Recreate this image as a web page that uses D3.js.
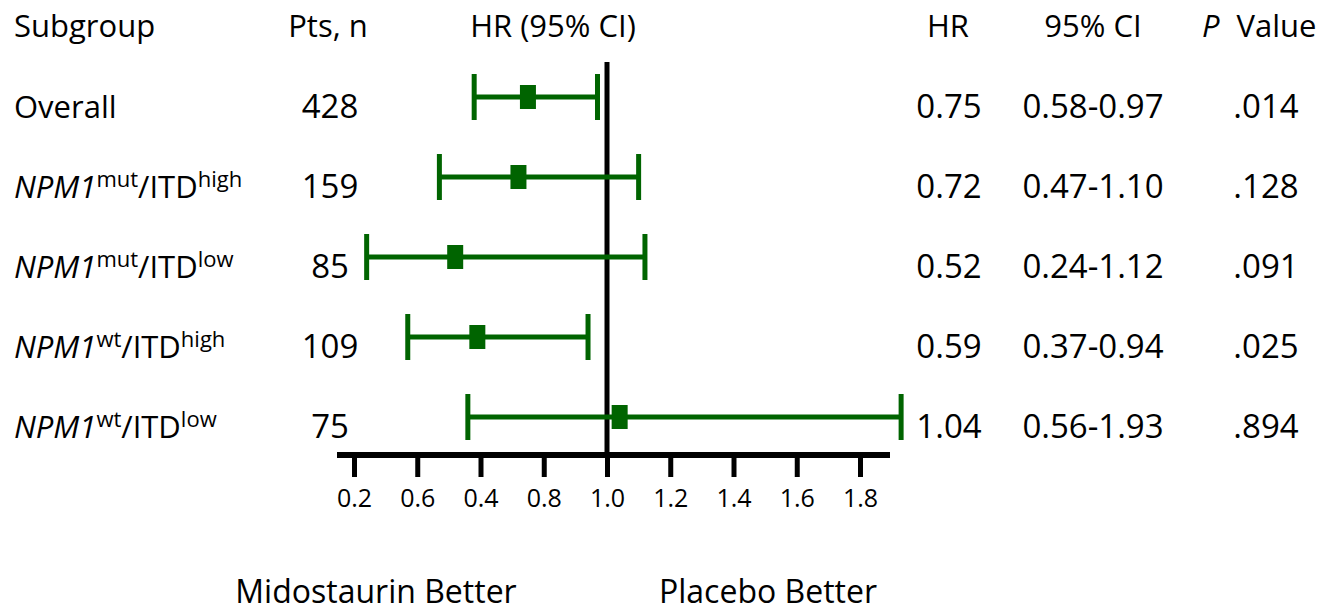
<!DOCTYPE html>
<html>
<head>
<meta charset="utf-8">
<script src="https://cdn.jsdelivr.net/npm/d3@7"></script>
<style>
  body { margin: 0; background: #fff; }
  text { font-family: "Open Sans", sans-serif; fill: #000; }
</style>
</head>
<body>
<div id="forest"></div>
<script>
// data
var subgroupGene = ["Overall", "NPM1", "NPM1", "NPM1", "NPM1"];
var mutStatus = ["", "mut", "mut", "wt", "wt"];
var itdStatus = ["", "high", "low", "high", "low"];
var patients = [428, 159, 85, 109, 75];
var hr = [0.75, 0.72, 0.52, 0.59, 1.04];
var ciLow = [0.58, 0.47, 0.24, 0.37, 0.56];
var ciHigh = [0.97, 1.10, 1.12, 0.94, 1.93];
var pValues = [".014", ".128", ".091", ".025", ".894"];
var tickValues = [0.2, 0.4, 0.6, 0.8, 1.0, 1.2, 1.4, 1.6, 1.8];
var tickLabels = ["0.2", "0.6", "0.4", "0.8", "1.0", "1.2", "1.4", "1.6", "1.8"];

var width = 1327, height = 613;
var green = "#006400";
var txt = "31px", num = "33px";

var svg = d3.select("#forest")
  .append("svg")
    .attr("width", width)
    .attr("height", height);

var rows = d3.range(subgroupGene.length);

var x = d3.scaleLinear()
    .domain([0.2, 1.8])
    .range([354, 860]);

var y = d3.scalePoint()
    .domain(rows)
    .range([97, 417]);

var axisY = 455;

// column headers
var headers = [
  {t: "Subgroup", x: 14, a: "start"},
  {t: "Pts, n", x: 328, a: "middle"},
  {t: "HR (95% CI)", x: 553, a: "middle"},
  {t: "HR", x: 948, a: "middle"},
  {t: "95% CI", x: 1093, a: "middle"}
];
svg.selectAll(".hdr")
  .data(headers)
  .enter()
  .append("text")
    .attr("class", "hdr")
    .attr("x", d => d.x)
    .attr("y", 37)
    .attr("text-anchor", d => d.a)
    .style("font-size", txt)
    .text(d => d.t);

var pHead = svg.append("text")
    .attr("x", 1202)
    .attr("y", 37)
    .style("font-size", txt);
pHead.append("tspan").style("font-style", "italic").text("P");
pHead.append("tspan").attr("dx", 17).text("Value");

// subgroup labels
var labels = svg.selectAll(".lbl")
  .data(rows)
  .enter()
  .append("text")
    .attr("class", "lbl")
    .attr("x", 14)
    .attr("y", i => y(i) + 21)
    .style("font-size", txt);

labels.each(function(i) {
  var t = d3.select(this);
  if (!mutStatus[i]) { t.text(subgroupGene[i]); return; }
  t.append("tspan").style("font-style", "italic").text(subgroupGene[i]);
  t.append("tspan").attr("dy", -11).style("font-size", "22px").text(mutStatus[i]);
  t.append("tspan").attr("dy", 11).text("/ITD");
  t.append("tspan").attr("dy", -11).style("font-size", "22px").text(itdStatus[i]);
});

// numeric columns
svg.selectAll(".pts")
  .data(rows).enter().append("text")
    .attr("x", 330).attr("y", i => y(i) + 21)
    .attr("text-anchor", "middle")
    .style("font-size", num)
    .text(i => patients[i]);

svg.selectAll(".hrv")
  .data(rows).enter().append("text")
    .attr("x", 949).attr("y", i => y(i) + 21)
    .attr("text-anchor", "middle")
    .style("font-size", num)
    .text(i => hr[i].toFixed(2));

svg.selectAll(".ci")
  .data(rows).enter().append("text")
    .attr("x", 1093).attr("y", i => y(i) + 21)
    .attr("text-anchor", "middle")
    .style("font-size", num)
    .text(i => ciLow[i].toFixed(2) + "-" + ciHigh[i].toFixed(2));

svg.selectAll(".pv")
  .data(rows).enter().append("text")
    .attr("x", 1266).attr("y", i => y(i) + 21)
    .attr("text-anchor", "middle")
    .style("font-size", num)
    .text(i => pValues[i]);

// axis
var axis = svg.append("g")
    .attr("transform", "translate(0," + axisY + ")")
    .call(d3.axisBottom(x)
      .tickValues(tickValues)
      .tickFormat((d, i) => tickLabels[i])
      .tickSize(22)
      .tickPadding(12));
axis.select(".domain").remove();
axis.selectAll(".tick line").attr("stroke", "#000").attr("stroke-width", 5);
axis.selectAll(".tick text")
    .style("font-family", "'Open Sans', sans-serif")
    .style("font-size", "25px")
    .attr("fill", "#000");

svg.append("line")
    .attr("x1", 337).attr("x2", 890)
    .attr("y1", axisY).attr("y2", axisY)
    .attr("stroke", "#000").attr("stroke-width", 6);

// line of no effect
svg.append("line")
    .attr("x1", x(1)).attr("x2", x(1))
    .attr("y1", 62).attr("y2", axisY)
    .attr("stroke", "#000").attr("stroke-width", 5);

// CI bars
var ci = svg.append("g").selectAll("g")
  .data(rows)
  .enter()
  .append("g");

ci.append("line")
    .attr("x1", i => x(ciLow[i])).attr("x2", i => x(ciHigh[i]))
    .attr("y1", i => y(i)).attr("y2", i => y(i))
    .attr("stroke", green).attr("stroke-width", 5);

ci.append("line")
    .attr("x1", i => x(ciLow[i])).attr("x2", i => x(ciLow[i]))
    .attr("y1", i => y(i) - 23).attr("y2", i => y(i) + 23)
    .attr("stroke", green).attr("stroke-width", 5);

ci.append("line")
    .attr("x1", i => x(ciHigh[i])).attr("x2", i => x(ciHigh[i]))
    .attr("y1", i => y(i) - 23).attr("y2", i => y(i) + 23)
    .attr("stroke", green).attr("stroke-width", 5);

ci.append("rect")
    .attr("x", i => x(hr[i]) - 8)
    .attr("y", i => y(i) - 12)
    .attr("width", 16)
    .attr("height", 24)
    .attr("fill", green);

// bottom labels
svg.append("text")
    .attr("x", 376).attr("y", 603)
    .attr("text-anchor", "middle")
    .style("font-size", "32px")
    .text("Midostaurin Better");

svg.append("text")
    .attr("x", 768).attr("y", 603)
    .attr("text-anchor", "middle")
    .style("font-size", "32px")
    .text("Placebo Better");
</script>
</body>
</html>
